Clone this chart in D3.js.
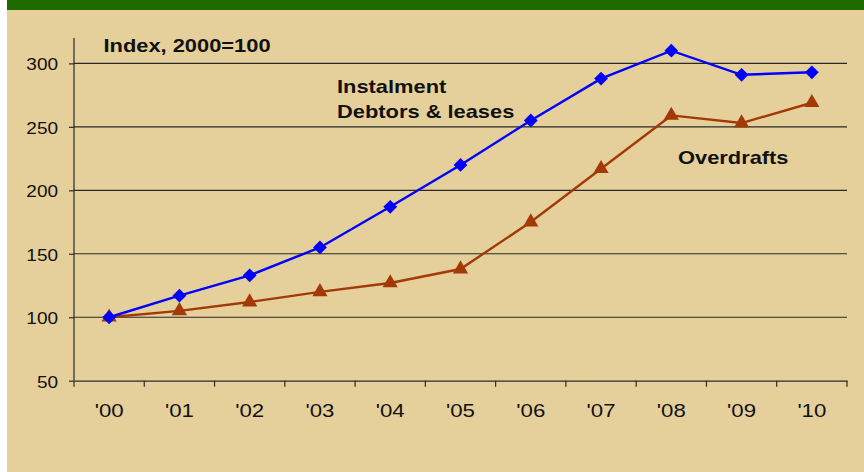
<!DOCTYPE html>
<html><head><meta charset="utf-8">
<script src="https://cdn.jsdelivr.net/npm/d3@7"></script>
<style>html,body{margin:0;padding:0;background:#fff;}svg{display:block;}</style>
</head><body>
<script>
const categories = ["'00","'01","'02","'03","'04","'05","'06","'07","'08","'09","'10"];
const instalment = [100,117,133,155,187,220,255,288,310,291,293];
const overdrafts = [100,105,112,120,127,138,175,217,259,253,269];
const yTicks = [50,100,150,200,250,300];

const W = 864, H = 472;
const svg = d3.select("body").append("svg").attr("width", W).attr("height", H);
svg.append("rect").attr("x",7).attr("y",0).attr("width",W-7).attr("height",H).attr("fill","#e5d09b");
svg.append("rect").attr("x",7).attr("y",0).attr("width",W-7).attr("height",10).attr("fill","#1f6b02");

const x = d3.scaleBand().domain(categories).range([74, 847]);
const y = d3.scaleLinear().domain([50, 320]).range([380.7, 38]);
const font = "Arial, 'Liberation Sans', sans-serif";
const STRETCH = 1.15;
function stretch(sel, k){
  sel.each(function(){ const n=this; const L=n.getComputedTextLength();
    d3.select(n).attr("textLength", L*k).attr("lengthAdjust","spacingAndGlyphs"); });
}

// gridlines
svg.append("g").selectAll("line").data(yTicks.slice(1)).join("line")
  .attr("x1",74).attr("x2",847).attr("y1",d=>y(d)).attr("y2",d=>y(d))
  .attr("stroke","#2a2a2a").attr("stroke-width",1.2);

// y axis
const yAxis = svg.append("g").attr("transform","translate(74,0)")
  .call(d3.axisLeft(y).tickValues(yTicks).tickSize(5).tickPadding(11));
yAxis.select(".domain").attr("stroke","#2a2a2a").attr("stroke-width",1.2).attr("d","M0,38V380.7");
yAxis.selectAll(".tick line").attr("stroke","#2a2a2a").attr("stroke-width",1.2);
yAxis.selectAll("text").attr("font-family",font).attr("font-size",16.5).attr("fill","#111").attr("dy","0.4em");
stretch(yAxis.selectAll("text"), STRETCH);

// x axis
const xAxis = svg.append("g").attr("transform",`translate(0,${y(50)})`)
  .call(d3.axisBottom(x).tickSize(0));
xAxis.select(".domain").attr("stroke","#2a2a2a").attr("stroke-width",1.2);
xAxis.selectAll("text").attr("font-family",font).attr("font-size",19).attr("fill","#111")
  .attr("y",36).attr("dy",0);
stretch(xAxis.selectAll("text"), 1.17);
const bounds = categories.map(c=>x(c)).concat([x(categories[categories.length-1])+x.bandwidth()]);
xAxis.selectAll(".btick").data(bounds).join("line").attr("class","btick")
  .attr("x1",d=>d).attr("x2",d=>d).attr("y1",0).attr("y2",6)
  .attr("stroke","#2a2a2a").attr("stroke-width",1.2);

const cx = c => x(c) + x.bandwidth()/2;
const line = d3.line().x((d,i)=>cx(categories[i])).y(d=>y(d));

// overdrafts
svg.append("path").datum(overdrafts).attr("d",line).attr("fill","none")
  .attr("stroke","#a33a06").attr("stroke-width",2.4);
svg.append("g").selectAll("path").data(overdrafts).join("path")
  .attr("transform",(d,i)=>`translate(${cx(categories[i])},${y(d)})`)
  .attr("d",d3.symbol(d3.symbolTriangle, 100)).attr("fill","#a33a06");

// instalment
svg.append("path").datum(instalment).attr("d",line).attr("fill","none")
  .attr("stroke","#0000ff").attr("stroke-width",2.4);
svg.append("g").selectAll("path").data(instalment).join("path")
  .attr("transform",(d,i)=>`translate(${cx(categories[i])},${y(d)}) rotate(45)`)
  .attr("d",d3.symbol(d3.symbolSquare, 95)).attr("fill","#0000ff");

// labels
const lab = (t,xx,yy)=>{ const s=svg.append("text").attr("x",xx).attr("y",yy).text(t)
  .attr("font-family",font).attr("font-size",19).attr("font-weight","bold").attr("fill","#111");
  stretch(s, STRETCH); return s; };
lab("Index, 2000=100",103.5,51.5);
lab("Instalment",337,93.3);
lab("Debtors & leases",337,118.3);
lab("Overdrafts",678,164);
</script>
</body></html>
